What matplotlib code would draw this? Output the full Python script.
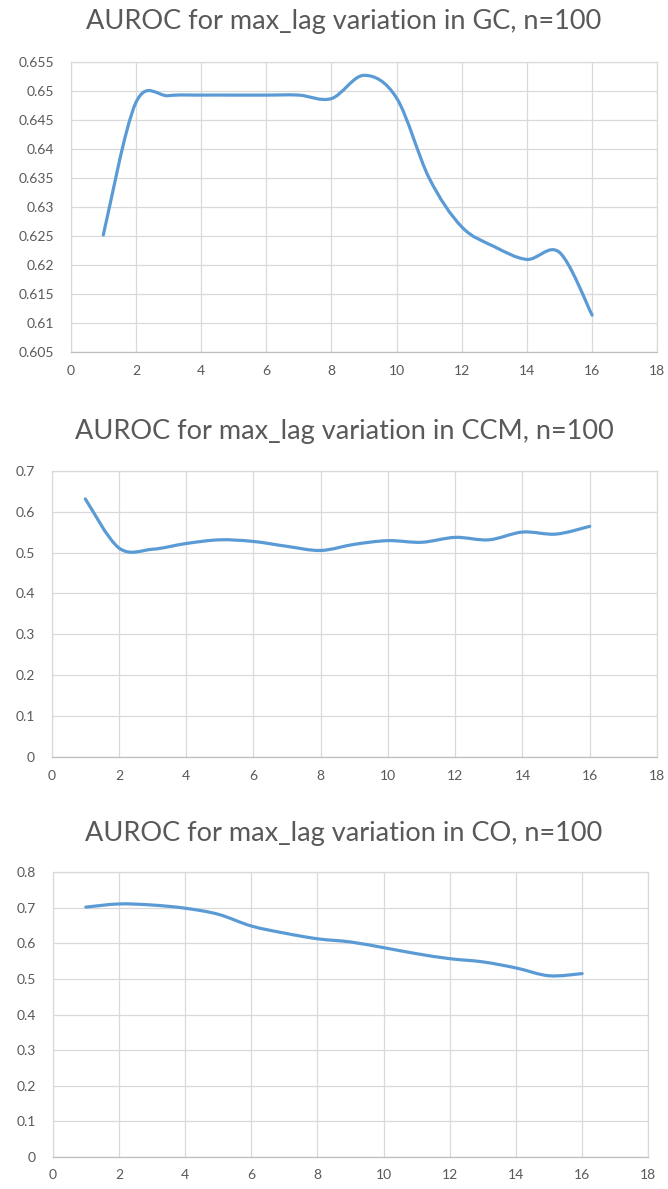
import matplotlib
matplotlib.use("Agg")
import matplotlib.pyplot as plt
import numpy as np
from matplotlib.path import Path
from matplotlib.patches import PathPatch

max_lag = [1, 2, 3, 4, 5, 6, 7, 8, 9, 10, 11, 12, 13, 14, 15, 16]

auroc_gc = [0.6252, 0.6480, 0.6492, 0.6493, 0.6493, 0.6493, 0.6493, 0.6487,
            0.6527, 0.6488, 0.6350, 0.6266, 0.6232, 0.6210, 0.6222, 0.6114]
auroc_ccm = [0.631, 0.511, 0.508, 0.522, 0.531, 0.527, 0.515, 0.505,
             0.520, 0.529, 0.525, 0.537, 0.531, 0.550, 0.545, 0.564]
auroc_co = [0.702, 0.711, 0.708, 0.699, 0.682, 0.649, 0.629, 0.613,
            0.604, 0.588, 0.571, 0.557, 0.548, 0.531, 0.509, 0.515]

titles = ["AUROC for max_lag variation in GC, n=100",
          "AUROC for max_lag variation in CCM, n=100",
          "AUROC for max_lag variation in CO, n=100"]

W, H = 668, 1189
LINE = '#5B9BD5'
GRID = '#D9D9D9'
TXT = '#595959'
FONT = 'Lato'


def smooth_path(x, y):
    # excel-like smoothed line: cubic bezier segments through the points
    p = np.column_stack([x, y]).astype(float)
    n = len(p)
    verts = [p[0]]
    codes = [Path.MOVETO]
    for i in range(n - 1):
        prev = p[max(i - 1, 0)]
        nxt = p[min(i + 2, n - 1)]
        c1 = p[i] + (p[i + 1] - prev) / 6.0
        c2 = p[i + 1] - (nxt - p[i]) / 6.0
        verts += [c1, c2, p[i + 1]]
        codes += [Path.CURVE4] * 3
    return Path(verts, codes)


def fmt(v):
    return ("%.3f" % v).rstrip('0').rstrip('.')


def panel(box, y, ylo, yhi, ystep, title, title_y):
    left, top, right, bottom = box
    ax = fig.add_axes([left / W, 1 - bottom / H, (right - left) / W, (bottom - top) / H])
    patch = PathPatch(smooth_path(max_lag, y), fill=False, ec=LINE, lw=2.3,
                      capstyle='round', joinstyle='round', zorder=3)
    ax.add_patch(patch)
    ax.set_xlim(0, 18)
    ax.set_ylim(ylo, yhi)
    ax.set_xticks(np.arange(0, 19, 2))
    yt = np.arange(ylo, yhi + ystep / 2, ystep)
    ax.set_yticks(yt)
    ax.set_yticklabels([fmt(v) for v in yt])
    ax.grid(True, color=GRID, lw=0.9)
    ax.set_axisbelow(True)
    for s in ax.spines.values():
        s.set_color(GRID)
        s.set_linewidth(0.9)
    ax.spines['bottom'].set_color('#BFBFBF')
    ax.tick_params(length=0, colors=TXT, labelsize=10)
    ax.tick_params(axis='y', pad=12)
    ax.tick_params(axis='x', pad=9)
    for lab in ax.get_xticklabels() + ax.get_yticklabels():
        lab.set_fontfamily(FONT)
    fig.text(344 / W, 1 - title_y / H, title, ha='center', va='center',
             fontsize=19.5, color=TXT, family=FONT)
    return ax


fig = plt.figure(figsize=(W / 100, H / 100), dpi=100)

panel((70.7, 62, 657.3, 352.3), auroc_gc, 0.605, 0.655, 0.005, titles[0], 21.7)
panel((51.7, 470.7, 657, 757), auroc_ccm, 0.0, 0.7, 0.1, titles[1], 431.7)
panel((52.7, 872.3, 648.3, 1156.7), auroc_co, 0.0, 0.8, 0.1, titles[2], 833.3)

plt.savefig("out.png", dpi=100)
